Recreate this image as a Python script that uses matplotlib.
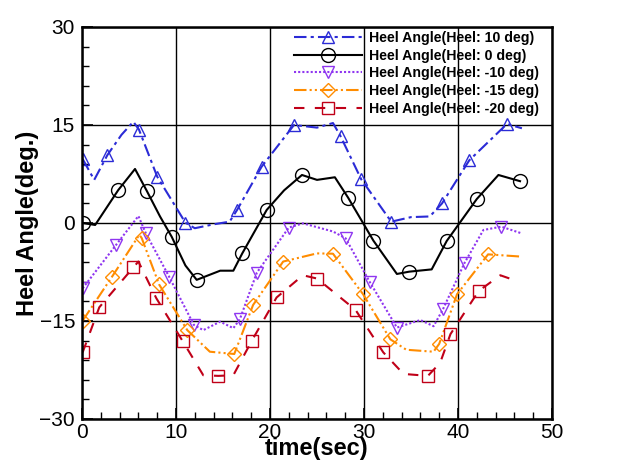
import matplotlib
matplotlib.use("Agg")
import matplotlib.pyplot as plt
from matplotlib.ticker import MultipleLocator

plt.rcParams['font.family'] = ['Liberation Sans', 'DejaVu Sans']

# ---- data ----
labels = ["Heel Angle(Heel: 10 deg)", "Heel Angle(Heel: 0 deg)",
          "Heel Angle(Heel: -10 deg)", "Heel Angle(Heel: -15 deg)",
          "Heel Angle(Heel: -20 deg)"]

t_p10 = [0.07, 1.3, 2.7, 4.2, 5.46, 6.06, 8.0, 11.0, 12.0, 14.0, 15.7, 16.5, 19.1, 22.55,
         25.0, 26.7, 27.5, 29.7, 32.9, 35.0, 37.0, 38.3, 41.2, 45.2, 46.8]
y_p10 = [9.8, 6.6, 10.4, 13.5, 15.5, 14.3, 7.1, 0.05, -0.8, -0.2, 0.2, 2.0, 8.6, 15.0,
         14.6, 15.3, 13.3, 6.7, 0.2, 0.9, 1.0, 3.0, 9.6, 15.15, 14.5]
m_p10 = [0.07, 2.7, 6.06, 8.0, 11.0, 16.5, 19.1, 22.55, 27.5, 29.7, 32.9, 38.3, 41.2, 45.2]

t_0 = [0.07, 1.4, 3.86, 5.64, 6.88, 8.3, 9.54, 11.0, 12.2, 14.7, 16.1, 17.05, 19.65, 21.5,
       23.4, 25.0, 26.9, 28.3, 31.0, 33.5, 34.8, 37.2, 38.8, 42.0, 44.3, 46.6]
y_0 = [0.0, -0.3, 5.05, 8.27, 4.95, 1.0, -2.1, -6.5, -8.7, -7.3, -7.3, -4.65, 2.0, 5.0,
       7.35, 6.6, 7.0, 3.9, -2.7, -7.8, -7.45, -7.1, -2.75, 3.67, 7.35, 6.4]
m_0 = [0.07, 3.86, 6.88, 9.54, 12.2, 17.05, 19.65, 23.4, 28.3, 31.0, 34.8, 38.8, 42.0, 46.6]

t_m10 = [0.07, 3.6, 6.0, 6.8, 9.26, 11.9, 12.9, 14.7, 16.1, 16.8, 18.6, 22.0, 23.5, 26.7,
         28.05, 30.6, 33.5, 36.0, 37.4, 38.4, 40.7, 42.7, 44.6, 46.8]
y_m10 = [-10.0, -3.4, 1.07, -1.6, -8.2, -15.6, -16.4, -15.1, -16.1, -14.7, -7.6, -0.7, -0.05, -1.3,
         -2.35, -9.0, -16.0, -14.85, -15.8, -13.2, -6.1, -1.07, -0.56, -1.6]
m_m10 = [0.07, 3.6, 6.8, 9.26, 11.9, 16.8, 18.6, 22.0, 28.05, 30.6, 33.5, 38.4, 40.7, 44.6]

t_m15 = [0.07, 3.16, 6.1, 6.35, 8.2, 11.2, 13.6, 16.2, 18.2, 21.4, 25.0, 26.7, 29.9, 32.8,
         34.5, 37.4, 38.0, 39.9, 43.2, 46.8]
y_m15 = [-14.95, -8.3, -1.8, -2.3, -9.4, -16.4, -19.7, -20.05, -12.55, -5.9, -4.65, -4.7, -10.9, -17.8,
         -19.4, -19.7, -18.5, -10.9, -4.8, -5.15]
m_m15 = [0.07, 3.16, 6.35, 8.2, 11.2, 16.2, 18.2, 21.4, 26.7, 29.9, 32.8, 38.0, 39.9, 43.2]

t_m20 = [0.07, 1.84, 5.46, 6.0, 7.9, 10.7, 12.9, 14.5, 16.1, 18.05, 20.7, 23.5, 25.0, 29.1,
         32.05, 34.2, 36.8, 38.1, 39.2, 42.2, 44.5, 45.9]
y_m20 = [-19.8, -12.9, -6.8, -5.9, -11.5, -18.06, -23.3, -23.4, -23.3, -18.06, -11.4, -8.0, -8.5, -13.3,
         -19.8, -23.1, -23.4, -21.4, -17.0, -10.4, -8.0, -8.7]
m_m20 = [0.07, 1.84, 5.46, 7.9, 10.7, 14.5, 18.05, 20.7, 25.0, 29.1, 32.05, 36.8, 39.2, 42.2]

series = [(t_p10, y_p10, m_p10), (t_0, y_0, m_0), (t_m10, y_m10, m_m10),
          (t_m15, y_m15, m_m15), (t_m20, y_m20, m_m20)]

colors = ['#2b2bd6', '#000000', '#8f36f0', '#ff8c00', '#c00018']
markers = ['^', 'o', 'v', 'D', 's']
msizes = [9, 10, 9, 7.5, 8]
dashes = [(6, 2, 1.5, 2), None, (1, 1), (6, 1.5, 1, 1.5, 1, 1.5), (5, 5)]

fig = plt.figure(figsize=(6.27, 4.75), dpi=100)
ax = fig.add_axes([82/627, 1 - 419/475, (552 - 82)/627, (419 - 27)/475])

for (t, y, m), c, mk, ms, d, lab in zip(series, colors, markers, msizes, dashes, labels):
    idx = [t.index(v) for v in m]
    ln, = ax.plot(t, y, color=c, lw=1.5, marker=mk, ms=ms, mfc='none', mec=c, mew=1.0,
                  markevery=idx, label=lab)
    if d is not None:
        ln.set_dashes(d)

ax.set_xlim(0, 50)
ax.set_ylim(-30, 30)
ax.xaxis.set_major_locator(MultipleLocator(10))
ax.xaxis.set_minor_locator(MultipleLocator(2))
ax.yaxis.set_major_locator(MultipleLocator(15))
ax.yaxis.set_minor_locator(MultipleLocator(3))
ax.grid(True, which='major', color='black', lw=1.0)
ax.tick_params(which='both', direction='in', top=False, right=False, labelsize=15)
ax.tick_params(axis='x', which='major', pad=3)
ax.tick_params(axis='y', which='major', pad=5)
ax.tick_params(which='major', length=8, width=1.2)
ax.tick_params(which='minor', length=5, width=1.0)
for s in ax.spines.values():
    s.set_linewidth(1.8)

ax.set_xlabel("time(sec)", fontsize=17, fontweight='bold', labelpad=-4)
ax.set_ylabel("Heel Angle(deg.)", fontsize=17, fontweight='bold', labelpad=0)

leg = ax.legend(loc='upper left', bbox_to_anchor=(291/627, 1 - 28/475),
                bbox_transform=fig.transFigure, frameon=False,
                prop={'weight': 'bold', 'size': 10.2}, handlelength=4.8,
                handletextpad=0.5, labelspacing=0.26, borderpad=0.2, borderaxespad=0)

fig.savefig("out.png", dpi=100)
